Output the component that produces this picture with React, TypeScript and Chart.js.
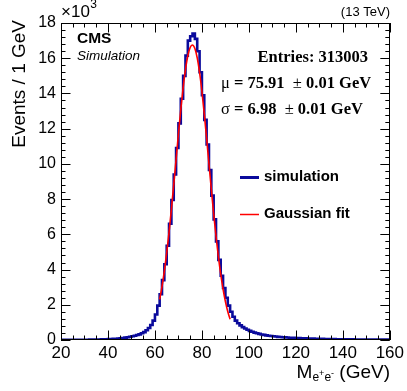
import React, { useEffect, useRef } from 'react';
import { Chart, registerables } from 'chart.js';

Chart.register(...registerables);

// Histogram: 1 GeV bins from 20 to 160 GeV, counts in units of 10^3
const BIN_LOW = 20;
const BIN_WIDTH = 1;
const countsK = [
  0.010, 0.010, 0.011, 0.011, 0.012, 0.012, 0.013, 0.014, 0.015, 0.016,
  0.017, 0.018, 0.020, 0.022, 0.024, 0.027, 0.030, 0.034, 0.038, 0.043,
  0.049, 0.056, 0.064, 0.074, 0.086, 0.10, 0.115, 0.135, 0.16, 0.185,
  0.21, 0.24, 0.28, 0.32, 0.38, 0.45, 0.55, 0.68, 0.85, 1.10,
  1.45, 1.95, 2.60, 3.40, 4.30, 5.35, 6.60, 7.95, 9.40, 10.90,
  12.30, 13.70, 15.00, 16.15, 17.00, 17.25, 17.40, 17.10, 16.40, 15.20,
  13.90, 12.50, 11.10, 9.65, 8.20, 6.85, 5.60, 4.55, 3.65, 2.95,
  2.40, 1.95, 1.60, 1.32, 1.10, 0.95, 0.83, 0.73, 0.65, 0.58,
  0.52, 0.47, 0.42, 0.38, 0.345, 0.315, 0.29, 0.265, 0.245, 0.225,
  0.21, 0.195, 0.18, 0.17, 0.16, 0.15, 0.14, 0.13, 0.125, 0.12,
  0.11, 0.105, 0.10, 0.095, 0.09, 0.085, 0.08, 0.076, 0.072, 0.068,
  0.065, 0.062, 0.059, 0.056, 0.053, 0.05, 0.048, 0.046, 0.044, 0.042,
  0.04, 0.038, 0.036, 0.035, 0.034, 0.032, 0.031, 0.03, 0.029, 0.028,
  0.027, 0.026, 0.025, 0.024, 0.023, 0.022, 0.021, 0.02, 0.02, 0.019,
];

// Gaussian fit curve, x in GeV, y in 10^3
const fitX = [62, 63, 64, 65, 66, 67, 68, 69, 70, 71, 72, 73, 74, 75, 75.91, 77, 78, 79, 80, 81, 82, 83, 84, 85, 86, 87, 88, 89, 90, 91, 92];
const fitY = [2.30, 3.03, 3.91, 4.94, 6.11, 7.42, 8.81, 10.26, 11.70, 13.08, 14.32, 15.36, 16.14, 16.61, 16.75, 16.55, 16.02, 15.19, 14.11, 12.84, 11.45, 10.00, 8.56, 7.17, 5.89, 4.74, 3.74, 2.89, 2.18, 1.62, 1.18];

const xTickValues = [20, 40, 60, 80, 100, 120, 140, 160];
const yTickValues = [0, 2, 4, 6, 8, 10, 12, 14, 16, 18];

const SANS = '"Liberation Sans", Arial, Helvetica, sans-serif';
const SERIF = '"Liberation Serif", "Times New Roman", serif';
const BLUE = '#0a0a9c';
const RED = '#ff0000';

const framePlugin = {
  id: 'rootFrame',
  afterDraw(chart: any) {
    const { ctx, chartArea: a, scales } = chart;
    const xs = scales.x;
    const ys = scales.y;
    ctx.save();
    ctx.strokeStyle = '#000';
    ctx.lineWidth = 1;
    // ticks on x (bottom & top), inward
    for (let i = 0; i <= 28; i++) {
      const v = 20 + i * 5;
      const px = Math.round(xs.getPixelForValue(v)) + 0.5;
      const len = i % 4 === 0 ? 9.5 : 4.5;
      ctx.beginPath();
      ctx.moveTo(px, a.bottom);
      ctx.lineTo(px, a.bottom - len);
      ctx.moveTo(px, a.top);
      ctx.lineTo(px, a.top + len);
      ctx.stroke();
    }
    // ticks on y (left & right), inward
    for (let i = 0; i <= 45; i++) {
      const v = i * 0.4;
      const py = Math.round(ys.getPixelForValue(v)) + 0.5;
      const len = i % 5 === 0 ? 9.5 : 4.5;
      ctx.beginPath();
      ctx.moveTo(a.left, py);
      ctx.lineTo(a.left + len, py);
      ctx.moveTo(a.right, py);
      ctx.lineTo(a.right - len, py);
      ctx.stroke();
    }
    // frame
    ctx.strokeRect(Math.round(a.left) + 0.5, Math.round(a.top) + 0.5, Math.round(a.right - a.left) - 1, Math.round(a.bottom - a.top) - 1);

    ctx.fillStyle = '#000';
    ctx.textBaseline = 'middle';

    // x10^3
    ctx.textAlign = 'left';
    ctx.font = `17px ${SANS}`;
    ctx.fillText('\u00d710', 61, 12);
    const w10 = ctx.measureText('\u00d710').width;
    ctx.font = `12px ${SANS}`;
    ctx.fillText('3', 61 + w10 + 0.5, 5);

    // (13 TeV)
    ctx.textAlign = 'right';
    ctx.font = `13px ${SANS}`;
    ctx.fillText('(13 TeV)', 390, 12);

    // CMS / Simulation
    ctx.textAlign = 'left';
    ctx.font = `bold 15.5px ${SANS}`;
    ctx.fillText('CMS', 77, 39);
    ctx.font = `italic 13.5px ${SANS}`;
    ctx.fillText('Simulation', 77, 56);

    // Stats text
    ctx.textAlign = 'right';
    ctx.font = `bold 16.5px ${SERIF}`;
    ctx.fillText('Entries: 313003', 368, 58);

    const drawParts = (parts: [string, string][], x0: number, y: number) => {
      ctx.textAlign = 'left';
      let x = x0;
      for (const [txt, font] of parts) {
        ctx.font = font;
        ctx.fillText(txt, x, y);
        x += ctx.measureText(txt).width;
      }
    };
    const B = `bold 16.5px ${SERIF}`;
    const R = `16.5px ${SERIF}`;
    drawParts([['\u03bc', R], [' = 75.91  ', B], ['\u00b1', R], [' 0.01 GeV', B]], 221, 84);
    drawParts([['\u03c3', R], [' = 6.98  ', B], ['\u00b1', R], [' 0.01 GeV', B]], 221, 110);

    // Legend
    ctx.lineWidth = 3;
    ctx.strokeStyle = BLUE;
    ctx.beginPath();
    ctx.moveTo(240, 177.5);
    ctx.lineTo(259, 177.5);
    ctx.stroke();
    ctx.lineWidth = 1.5;
    ctx.strokeStyle = RED;
    ctx.beginPath();
    ctx.moveTo(240, 214.5);
    ctx.lineTo(259, 214.5);
    ctx.stroke();
    ctx.font = `bold 15px ${SANS}`;
    ctx.textAlign = 'left';
    ctx.fillText('simulation', 264, 177);
    ctx.fillText('Gaussian fit', 264, 214);

    // Y title
    ctx.save();
    ctx.translate(20, 20);
    ctx.rotate(-Math.PI / 2);
    ctx.textAlign = 'right';
    ctx.font = `19px ${SANS}`;
    ctx.fillText('Events / 1 GeV', 0, 0);
    ctx.restore();

    // X title: M_{e+e-} (GeV), right aligned
    const parts: [string, string, number][] = [
      ['M', `19px ${SANS}`, 0],
      ['e', `12px ${SANS}`, 5],
      ['+', `9px ${SANS}`, 1],
      ['e', `12px ${SANS}`, 5],
      ['-', `9px ${SANS}`, 1],
      [' (GeV)', `19px ${SANS}`, 0],
    ];
    let total = 0;
    for (const [t, f] of parts) {
      ctx.font = f;
      total += ctx.measureText(t).width;
    }
    let x = 390 - total;
    ctx.textAlign = 'left';
    for (const [t, f, dy] of parts) {
      ctx.font = f;
      ctx.fillText(t, x, 373 + dy);
      x += ctx.measureText(t).width;
    }
    ctx.restore();
  },
};

export default function App() {
  const ref = useRef<HTMLCanvasElement | null>(null);

  useEffect(() => {
    if (!ref.current) return;
    const histPoints = countsK.map((c, i) => ({ x: BIN_LOW + i * BIN_WIDTH, y: c }));
    histPoints.push({ x: BIN_LOW + countsK.length * BIN_WIDTH, y: countsK[countsK.length - 1] });
    const fitPoints = fitX.map((x, i) => ({ x, y: fitY[i] }));

    const chart = new Chart(ref.current, {
      type: 'line',
      data: {
        datasets: [
          {
            label: 'Gaussian fit',
            data: fitPoints,
            borderColor: RED,
            borderWidth: 1.6,
            pointRadius: 0,
            cubicInterpolationMode: 'monotone',
            fill: false,
            order: 0,
          },
          {
            label: 'simulation',
            data: histPoints,
            borderColor: BLUE,
            borderWidth: 2.6,
            pointRadius: 0,
            stepped: 'before',
            fill: false,
            order: 1,
          },
        ],
      },
      options: {
        responsive: false,
        animation: false,
        devicePixelRatio: 1,
        layout: { padding: { top: 23, right: 16, left: 0, bottom: 0 } },
        plugins: { legend: { display: false }, tooltip: { enabled: false } },
        scales: {
          x: {
            type: 'linear',
            min: 20,
            max: 160,
            grid: { display: false, drawTicks: false, tickLength: 0 },
            border: { display: false },
            afterBuildTicks: (s: any) => {
              s.ticks = xTickValues.map((v) => ({ value: v }));
            },
            afterFit: (s: any) => {
              s.height = 51;
            },
            ticks: {
              color: '#000',
              font: { family: SANS, size: 17 },
              padding: 3,
              maxRotation: 0,
              autoSkip: false,
              callback: (v: any) => String(v),
            },
          },
          y: {
            type: 'linear',
            min: 0,
            max: 18,
            grid: { display: false, drawTicks: false, tickLength: 0 },
            border: { display: false },
            afterBuildTicks: (s: any) => {
              s.ticks = yTickValues.map((v) => ({ value: v }));
            },
            afterFit: (s: any) => {
              s.width = 61;
            },
            ticks: {
              color: '#000',
              font: { family: SANS, size: 16 },
              padding: 5,
              autoSkip: false,
              callback: (v: any) => String(v),
            },
          },
        },
      },
      plugins: [framePlugin],
    } as any);
    return () => chart.destroy();
  }, []);

  return (
    <div style={{ position: 'fixed', left: 0, top: 0, width: 407, height: 391, background: '#fff' }}>
      <canvas ref={ref} width={407} height={391} style={{ width: 407, height: 391, display: 'block' }} />
    </div>
  );
}
